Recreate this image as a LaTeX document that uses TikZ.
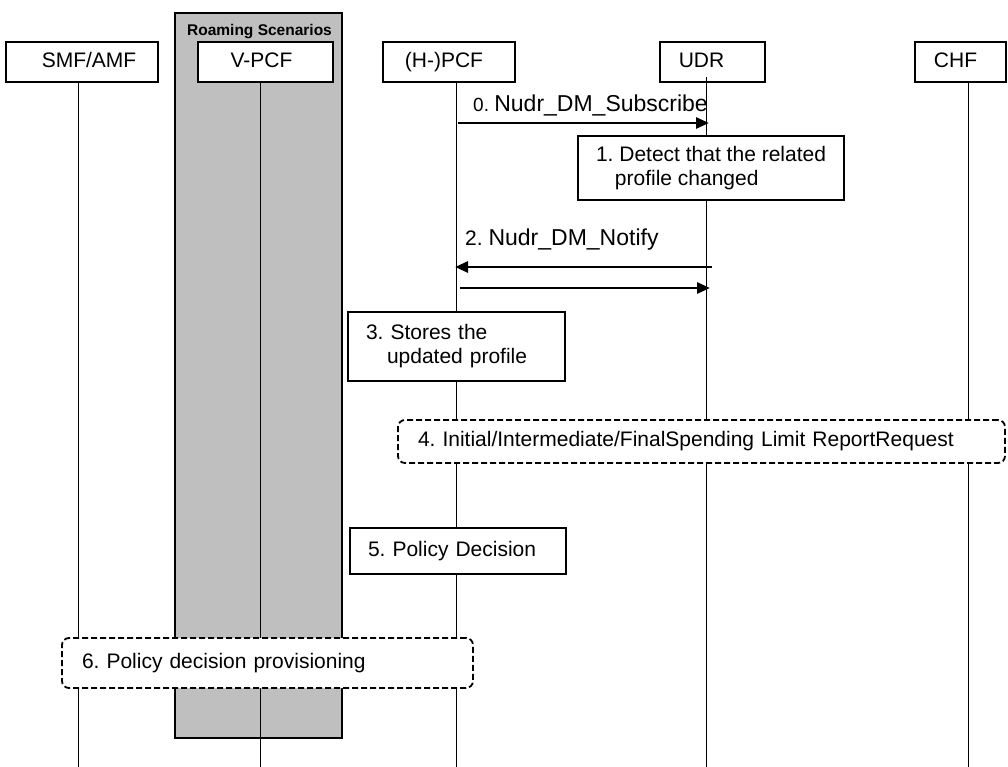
\documentclass[tikz,border=0pt]{standalone}
\usepackage{fontspec}
\setmainfont{Liberation Sans}
\usetikzlibrary{arrows.meta}
\begin{document}
\frenchspacing
\begin{tikzpicture}[x=1pt,y=-1pt,
  lbl/.style={font=\fontsize{21}{24}\selectfont},
  actor/.style={draw,line width=1.2pt,fill=white,rectangle,inner sep=0pt,lbl,minimum height=40pt,text height=15pt,text depth=4pt},
  stepbox/.style={draw,line width=1.2pt,fill=white,rectangle,inner sep=0pt,lbl,align=left},
  dashbox/.style={draw,line width=1.8pt,dash pattern=on 6pt off 3pt,rounded corners=7pt,fill=white,rectangle,inner sep=0pt,lbl,align=left},
  life/.style={line width=1pt},
  msg/.style={line width=2.8pt,-{Triangle[length=13pt,width=11pt]}}]
\useasboundingbox (0,0) rectangle (1008,767);
% roaming area
\node[draw,line width=1.2pt,fill=black!25,minimum width=167pt,minimum height=725pt,inner sep=0pt] (roam) at (258.5,375.5) {};
\node[font=\bfseries\fontsize{15.5}{17}\selectfont,anchor=base,inner sep=0pt] (roamlbl) at (259.5,36) {Roaming Scenarios};
% actors
\node[actor,minimum width=152pt] (smf) at (82,62) {\hspace*{14pt}SMF/AMF};
\node[actor,minimum width=135pt] (vpcf) at (265.5,62) {V-PCF\hspace*{8pt}};
\node[actor,minimum width=132pt] (pcf) at (449,62) {(H-)PCF\hspace*{10pt}};
\node[actor,minimum width=105pt] (udr) at (712.5,62) {UDR\hspace*{22pt}};
\node[actor,minimum width=91pt] (chf) at (960.5,62) {CHF\hspace*{10pt}};
% lifeline coordinates
\coordinate (smfT) at (78,82);
\coordinate (vpcfT) at (260,82);
\coordinate (pcfT) at (456,82);
\coordinate (udrT) at (706,77);
\coordinate (chfT) at (968,82);
\coordinate (bot) at (0,767);
\draw[life] (smfT) -- (smfT |- bot);
\draw[life] (vpcfT) -- (vpcfT |- bot);
\draw[life] (pcfT) -- (pcfT |- bot);
\draw[life] (udrT) -- (udrT |- bot);
\draw[life] (chfT) -- (chfT |- bot);
% message 0
\coordinate (m0a) at (458,123);
\coordinate (m0b) at (709,123);
\draw[msg] (m0a) -- (m0b);
\node[anchor=base west,inner sep=0pt] (m0lbl) at (473,112) {\fontsize{19}{22}\selectfont 0.\ \fontsize{23}{26}\selectfont Nudr\_DM\_Subscribe};
% step 1
\node[stepbox,minimum width=266pt,minimum height=64pt] (s1) at (711,168) {1. Detect that the related\\\hspace*{0.9em}profile changed};
% message 2
\node[anchor=base west,inner sep=0pt] (m2lbl) at (465,245) {\fontsize{21}{24}\selectfont 2.\ \fontsize{23}{26}\selectfont Nudr\_DM\_Notify};
\coordinate (m2a) at (712,267);
\coordinate (m2b) at (455,267);
\draw[msg] (m2a) -- (m2b);
\coordinate (m2c) at (460,288);
\coordinate (m2d) at (710,288);
\draw[msg] (m2c) -- (m2d);
% step 3
\node[stepbox,minimum width=217pt,minimum height=69pt,text width=181pt] (s3) at (456.5,346.5) {3. Stores the\\\hspace*{1em}updated profile};
% step 4
\node[dashbox,minimum width=607pt,minimum height=43pt,text width=567pt] (s4) at (701.5,441.5) {4. Initial/Intermediate/FinalSpending Limit ReportRequest};
% step 5
\node[stepbox,minimum width=216pt,minimum height=46pt,text width=180pt] (s5) at (458,551) {5. Policy Decision};
% step 6
\node[dashbox,minimum width=411pt,minimum height=50pt,text width=371pt] (s6) at (267.5,663) {6. Policy decision provisioning};
\end{tikzpicture}
\end{document}
